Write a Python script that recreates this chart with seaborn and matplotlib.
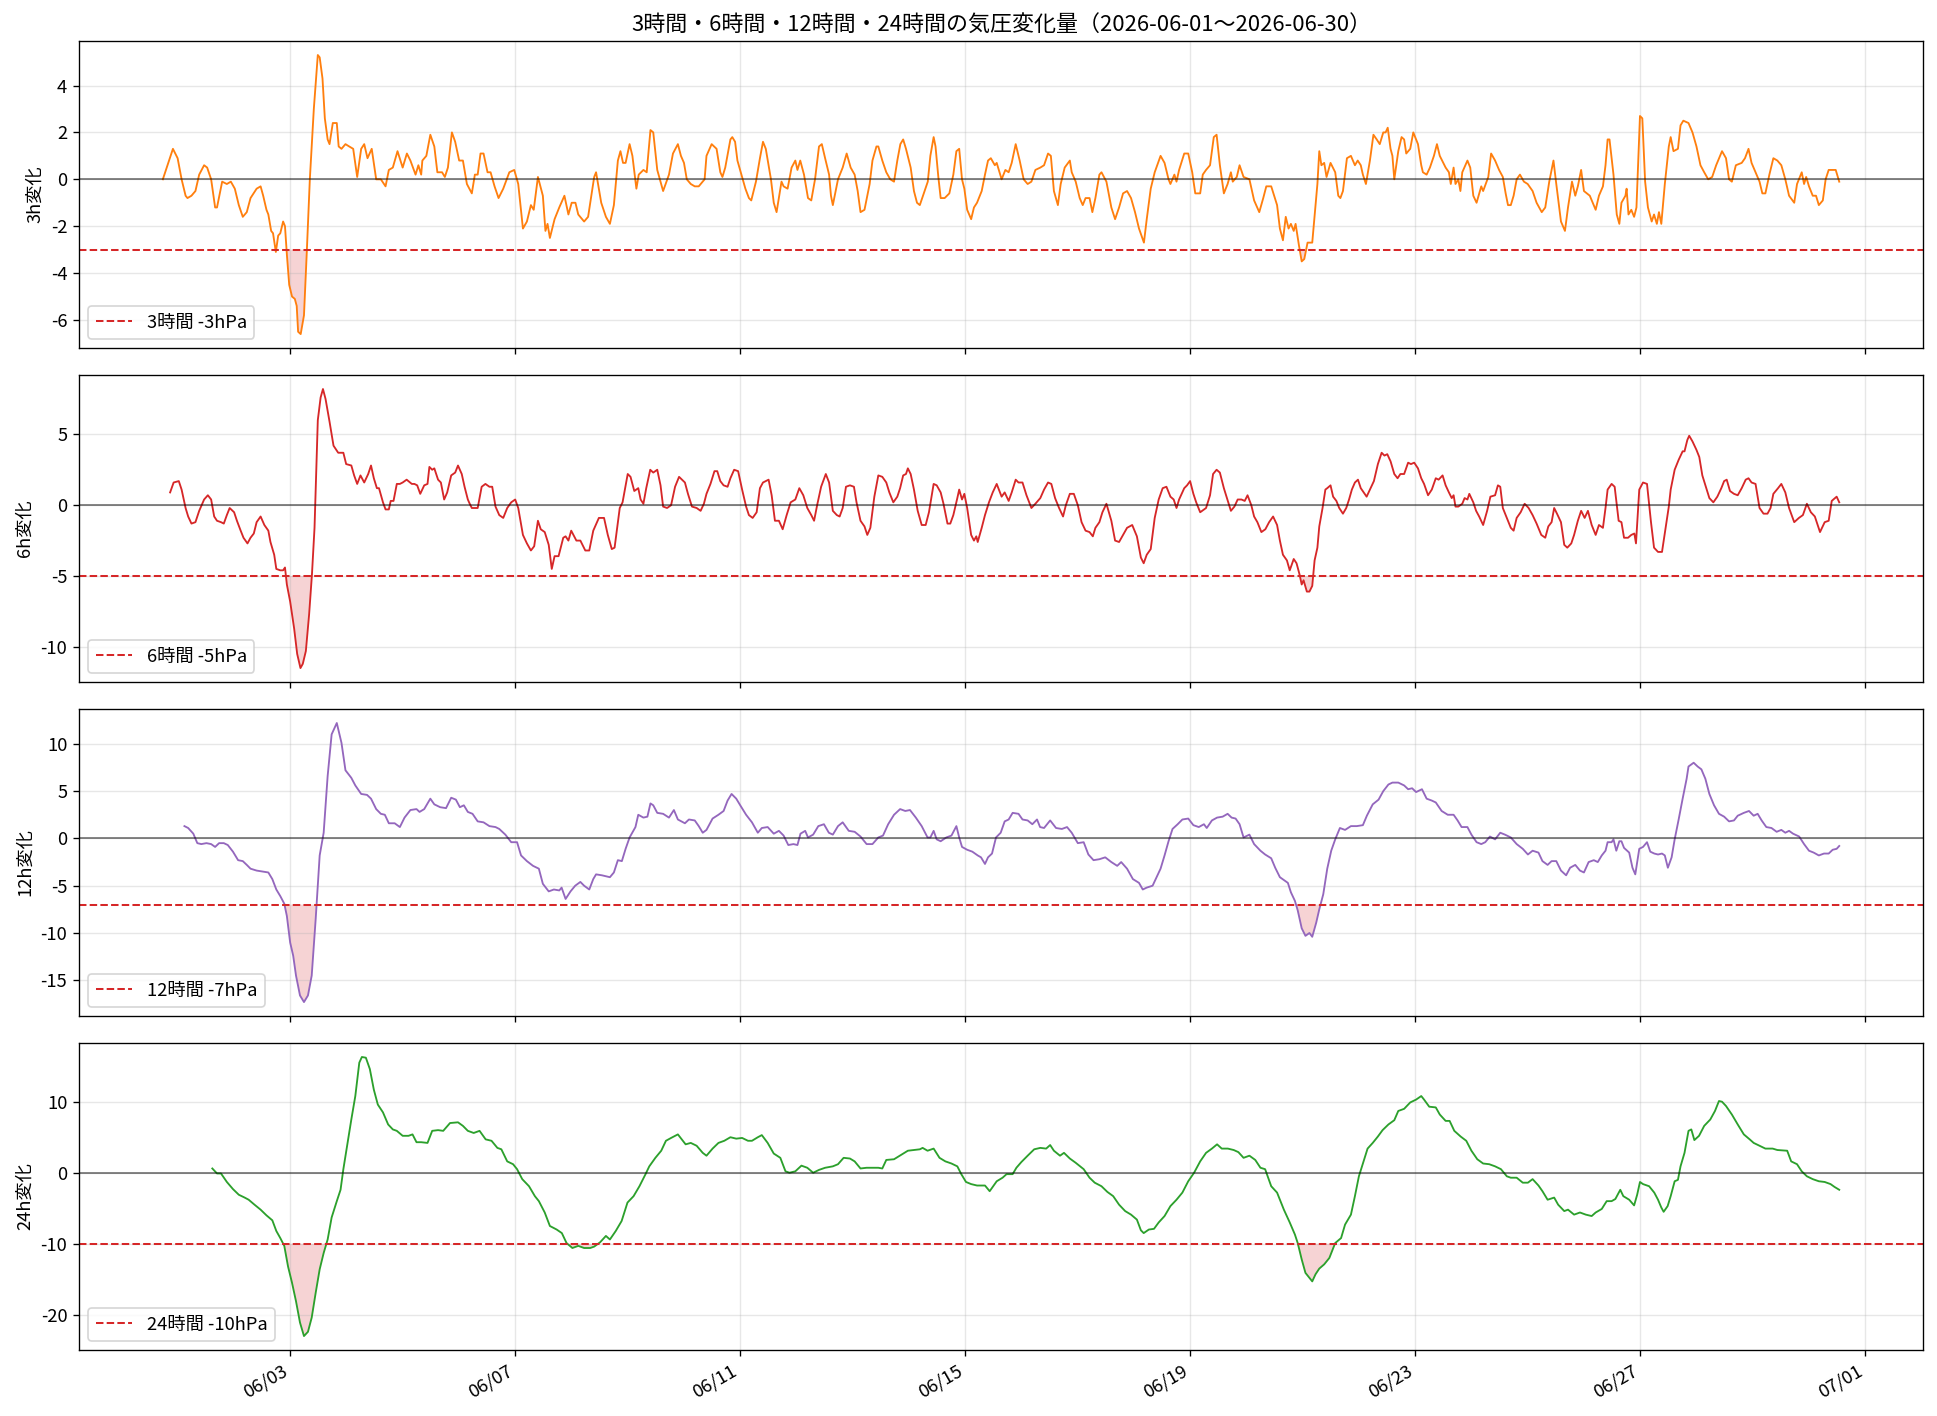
import numpy as np
import pandas as pd
import matplotlib
matplotlib.use("Agg")
import matplotlib.pyplot as plt
import matplotlib.dates as mdates
from matplotlib.ticker import MultipleLocator
import seaborn as sns

# ---------------- data (hours since 2026-06-01 00:00, value in hPa) ----------------
BASE = "2026-06-01 00:00"

pts_3h = [(-6.3, 0.0), (-2.0, 1.3), (0.0, 0.9), (1.7, 0.0), (3.4, -0.7), (4.2, -0.8), (5.9, -0.7), (7.6, -0.5), (9.2, 0.2), (11.3, 0.6), (12.6, 0.5), (14.3, 0.0), (16.0, -1.2), (16.8, -1.2), (19.0, -0.1), (21.0, -0.2), (22.7, -0.1), (24.4, -0.4), (26.1, -1.1), (27.8, -1.6), (29.5, -1.4), (31.1, -0.8), (33.7, -0.4), (35.4, -0.3), (36.5, -0.7), (37.9, -1.3), (38.7, -1.5), (39.9, -2.2), (40.7, -2.3), (41.9, -3.1), (42.9, -2.4), (43.8, -2.3), (45.0, -1.8), (45.8, -2.0), (46.6, -3.2), (47.6, -4.5), (48.8, -5.0), (50.0, -5.1), (50.8, -5.4), (51.4, -6.5), (52.5, -6.6), (53.9, -5.8), (55.1, -3.1), (56.4, 0.0), (58.1, 3.0), (59.8, 5.3), (60.6, 5.2), (61.8, 4.3), (62.8, 2.6), (64.0, 1.7), (64.8, 1.5), (66.2, 2.4), (67.9, 2.4), (68.7, 1.4), (69.9, 1.3), (71.6, 1.5), (73.2, 1.4), (74.9, 1.3), (76.6, 0.1), (78.3, 1.3), (79.6, 1.5), (81.0, 0.9), (82.8, 1.3), (84.7, 0.0), (86.7, 0.0), (88.7, -0.3), (90.1, 0.4), (91.8, 0.5), (93.8, 1.2), (96.0, 0.5), (97.8, 1.1), (99.3, 0.8), (101.5, 0.2), (102.7, 0.6), (103.9, 0.2), (104.4, 0.8), (106.1, 1.0), (107.8, 1.9), (109.5, 1.4), (110.8, 0.3), (112.8, 0.3), (114.0, 0.1), (115.3, 0.5), (117.0, 2.0), (118.4, 1.6), (120.1, 0.8), (121.7, 0.8), (123.4, -0.2), (125.5, -0.6), (126.8, 0.2), (128.0, 0.2), (129.2, 1.1), (130.5, 1.1), (132.2, 0.3), (133.5, 0.3), (135.2, -0.3), (136.9, -0.8), (138.9, -0.4), (141.5, 0.3), (143.6, 0.4), (145.3, -0.2), (147.3, -2.1), (149.0, -1.8), (150.7, -1.1), (151.9, -1.3), (153.7, 0.1), (155.8, -0.7), (156.9, -2.2), (157.8, -1.9), (158.8, -2.5), (160.8, -1.7), (162.8, -1.2), (165.0, -0.7), (166.7, -1.5), (168.1, -1.0), (169.7, -1.0), (170.9, -1.5), (173.4, -1.8), (175.1, -1.6), (177.7, 0.1), (178.5, 0.3), (180.7, -1.0), (182.7, -1.6), (184.4, -1.9), (186.1, -1.1), (187.8, 0.8), (188.9, 1.2), (190.0, 0.7), (191.1, 0.7), (192.8, 1.5), (194.0, 1.0), (195.7, -0.4), (196.7, 0.2), (198.7, 0.4), (200.1, 0.3), (201.7, 2.1), (202.9, 2.0), (204.6, 0.4), (207.1, -0.5), (209.6, 0.2), (211.3, 1.1), (213.4, 1.5),
          (214.7, 1.0), (216.0, 0.7), (217.2, 0.0), (218.9, -0.2), (220.6, -0.3), (222.3, -0.3), (224.8, 0.0), (225.6, 1.0), (227.8, 1.5), (229.9, 1.3), (231.5, 0.3), (232.4, 0.1), (233.6, 0.5), (235.8, 1.7), (236.6, 1.8), (237.8, 1.6), (238.8, 0.8), (240.8, 0.1), (242.2, -0.4), (243.7, -0.8), (244.7, -0.9), (246.7, -0.1), (248.4, 0.9), (249.7, 1.6), (250.9, 1.3), (253.1, 0.0), (254.3, -1.0), (255.5, -1.4), (257.6, -0.1), (258.5, -0.3), (260.2, -0.4), (261.9, 0.5), (263.5, 0.8), (264.4, 0.4), (265.6, 0.8), (267.2, 0.2), (268.9, -0.8), (270.3, -0.9), (271.9, 0.0), (273.6, 1.4), (274.8, 1.5), (276.2, 0.9), (277.9, 0.2), (278.7, -0.7), (279.5, -1.1), (281.7, 0.0), (283.7, 0.5), (285.4, 1.1), (287.1, 0.5), (288.8, 0.2), (290.1, -0.5), (291.3, -1.4), (293.0, -1.3), (295.2, -0.2), (296.4, 0.8), (298.1, 1.4), (298.9, 1.4), (300.6, 0.8), (302.3, 0.3), (304.0, 0.0), (305.6, -0.1), (307.0, 0.8), (308.3, 1.5), (309.5, 1.7), (310.7, 1.3), (312.7, 0.5), (314.1, -0.5), (315.4, -1.0), (316.6, -1.1), (318.3, -0.6), (320.0, -0.1), (321.1, 1.0), (322.5, 1.8), (323.3, 1.4), (324.5, 0.1), (325.5, -0.8), (327.2, -0.8), (329.2, -0.6), (330.9, 0.2), (332.2, 1.2), (333.4, 1.3), (334.6, 0.0), (335.6, -0.4), (336.8, -1.3), (338.5, -1.7), (339.7, -1.2), (341.0, -1.0), (343.0, -0.5), (344.4, 0.2), (345.7, 0.8), (346.9, 0.9), (348.6, 0.6), (349.4, 0.7), (351.5, 0.0), (353.1, 0.4), (354.5, 0.3), (355.8, 0.7), (357.5, 1.5), (359.2, 0.8), (360.9, 0.0), (362.6, -0.2), (364.2, -0.1), (365.9, 0.4), (368.0, 0.5), (369.6, 0.6), (371.3, 1.1), (372.5, 1.0), (373.8, -0.5), (375.5, -1.1), (376.7, -0.2), (378.4, 0.5), (380.6, 0.8), (381.4, 0.3), (383.1, -0.1), (384.8, -0.8), (386.1, -1.1), (387.3, -0.8), (389.0, -0.8), (390.2, -1.4), (391.5, -0.8), (393.2, 0.2), (394.1, 0.3), (396.2, -0.1), (398.3, -1.2), (399.9, -1.7), (401.6, -1.2), (403.3, -0.6), (405.0, -0.5), (406.7, -0.8), (408.4, -1.4), (410.1, -2.1), (412.2, -2.7), (413.4, -1.7), (415.1, -0.4), (416.8, 0.3), (419.3, 1.0), (421.0, 0.7), (422.7, 0.0), (423.5, -0.2), (425.2, 0.2), (426.1, -0.1), (427.2, 0.4), (429.4, 1.1), (431.1, 1.1), (432.8, 0.3), (434.1, -0.6), (436.2, -0.6), (437.3, 0.2), (438.7, 0.4), (440.4, 0.6), (442.0, 1.8), (443.2, 1.9), (444.6, 0.6), (446.3, -0.6), (447.9, -0.2), (449.3, 0.3), (450.1, -0.1), (451.8, 0.1), (453.0, 0.6), (454.7, 0.1), (457.2, 0.0), (459.2, -0.9), (461.4, -1.4), (463.1, -0.8), (464.4, -0.3), (466.5, -0.3), (469.0, -1.1),
          (470.2, -2.1), (471.5, -2.6), (472.7, -1.6), (473.9, -2.1), (474.9, -1.9), (476.1, -2.2), (476.9, -1.9), (478.3, -2.8), (479.5, -3.5), (480.6, -3.4), (482.0, -2.7), (484.0, -2.7), (485.4, -1.1), (486.2, -0.2), (487.0, 1.2), (487.9, 0.6), (489.1, 0.7), (490.1, 0.1), (491.8, 0.7), (493.8, 0.3), (495.1, -0.7), (496.0, -0.8), (497.1, -0.5), (498.8, 0.9), (500.5, 1.0), (502.2, 0.6), (503.4, 0.8), (504.7, 0.6), (505.6, 0.2), (506.9, -0.2), (508.6, 0.8), (510.1, 1.9), (511.5, 1.7), (512.8, 1.5), (514.3, 2.0), (515.3, 2.0), (516.2, 2.2), (517.4, 1.3), (518.2, 1.0), (519.0, 0.0), (520.7, 1.2), (522.1, 1.8), (523.2, 1.7), (524.1, 1.1), (525.8, 1.3), (527.1, 2.0), (529.1, 1.5), (530.5, 0.6), (531.2, 0.3), (532.8, 0.2), (534.2, 0.5), (535.9, 1.0), (537.2, 1.5), (538.4, 1.0), (540.9, 0.5), (542.3, 0.3), (543.1, -0.2), (544.3, 0.5), (545.1, -0.2), (546.3, 0.0), (547.2, -0.5), (548.0, 0.3), (550.2, 0.8), (551.4, 0.5), (552.7, -0.7), (554.1, -1.0), (556.1, -0.3), (556.9, -0.5), (559.1, 0.1), (560.3, 1.1), (562.0, 0.8), (563.7, 0.4), (565.3, 0.1), (566.5, -0.6), (567.5, -1.1), (568.7, -1.1), (569.9, -0.7), (571.2, 0.0), (572.6, 0.2), (574.3, -0.1), (575.9, -0.2), (578.0, -0.5), (579.7, -1.0), (581.9, -1.4), (583.4, -1.2), (585.1, -0.1), (586.9, 0.8), (588.1, -0.2), (590.1, -1.8), (591.8, -2.2), (593.1, -1.2), (594.8, -0.1), (596.2, -0.7), (597.3, -0.3), (598.7, 0.4), (599.9, -0.5), (602.4, -0.7), (604.9, -1.3), (606.3, -0.7), (608.0, -0.3), (609.1, 0.6), (610.0, 1.7), (610.8, 1.7), (612.5, 0.2), (613.9, -1.5), (615.0, -1.9), (615.9, -1.0), (617.6, -0.7), (618.1, -0.4), (618.9, -1.5), (620.1, -1.3), (621.3, -1.6), (622.3, -1.2), (623.8, 2.7), (624.8, 2.6), (626.0, -0.1), (627.2, -1.2), (628.8, -1.8), (629.8, -1.5), (631.0, -1.9), (631.9, -1.4), (632.9, -1.9), (634.4, -0.2), (636.1, 1.4), (636.9, 1.8), (638.1, 1.2), (640.0, 1.3), (641.1, 2.3), (642.3, 2.5), (644.5, 2.4), (646.2, 2.0), (647.9, 1.4), (649.6, 0.6), (651.2, 0.3), (652.9, 0.0), (654.6, 0.1), (656.3, 0.6), (658.8, 1.2), (660.5, 0.9), (661.8, 0.0), (663.0, -0.1), (664.7, 0.6), (667.2, 0.7), (668.6, 0.9), (670.1, 1.3), (671.4, 0.7), (673.1, 0.3), (674.8, -0.1), (676.0, -0.6), (677.3, -0.6), (679.0, 0.2), (680.7, 0.9), (682.4, 0.8), (684.1, 0.6), (685.8, 0.0), (687.4, -0.7), (689.6, -1.0), (690.8, -0.2), (692.8, 0.3), (693.8, -0.2), (694.7, 0.1), (695.9, -0.3), (697.5, -0.7), (698.9, -0.7), (700.1, -1.1), (701.8, -0.9), (703.0, 0.0), (704.3, 0.4), (706.0, 0.4), (707.3, 0.4), (708.8, -0.1)]

pts_6h = [(-3.2, 0.9), (-1.7, 1.6), (0.5, 1.7), (1.7, 1.1), (3.4, -0.2), (4.5, -0.8), (5.9, -1.3), (7.6, -1.2), (9.2, -0.4), (11.3, 0.4), (12.9, 0.7), (14.3, 0.4), (15.6, -0.8), (16.8, -1.1), (18.5, -1.2), (19.7, -1.3), (21.0, -0.7), (22.2, -0.2), (24.1, -0.5), (25.3, -1.1), (26.9, -1.8), (28.1, -2.3), (29.8, -2.7), (31.1, -2.3), (32.5, -2.0), (33.7, -1.2), (35.4, -0.8), (37.0, -1.4), (38.7, -1.8), (39.6, -2.6), (41.2, -3.5), (42.1, -4.5), (43.8, -4.6), (45.0, -4.6), (45.8, -4.4), (46.6, -5.6), (48.0, -6.8), (49.7, -8.7), (51.0, -10.5), (52.4, -11.5), (53.4, -11.2), (54.7, -10.3), (56.1, -7.7), (57.3, -4.9), (58.4, -1.6), (59.8, 6.0), (61.0, 7.6), (62.0, 8.2), (63.1, 7.5), (64.8, 5.9), (66.5, 4.2), (68.5, 3.7), (70.7, 3.7), (71.9, 2.9), (74.1, 2.8), (75.3, 2.1), (76.6, 1.5), (78.0, 2.1), (79.6, 1.6), (81.3, 2.2), (82.5, 2.8), (83.7, 1.9), (85.0, 1.2), (85.9, 1.2), (87.6, 0.2), (88.7, -0.3), (90.1, -0.3), (90.9, 0.3), (92.1, 0.3), (93.5, 1.5), (94.8, 1.5), (96.0, 1.6), (97.7, 1.8), (99.9, 1.5), (101.0, 1.5), (102.2, 1.4), (103.5, 0.8), (105.2, 1.4), (106.6, 1.5), (107.4, 2.7), (108.6, 2.5), (109.5, 2.6), (111.1, 1.8), (112.3, 1.6), (113.7, 0.4), (115.0, 0.9), (116.7, 2.1), (118.4, 2.3), (119.6, 2.8), (121.2, 2.2), (122.4, 1.3), (123.8, 0.4), (124.6, 0.1), (125.5, -0.2), (126.8, -0.2), (128.0, -0.2), (129.7, 1.3), (131.3, 1.5), (133.0, 1.3), (134.2, 1.3), (135.6, -0.1), (137.2, -0.7), (138.9, -0.9), (140.6, -0.2), (142.3, 0.2), (144.0, 0.4), (145.3, -0.2), (147.3, -2.1), (149.0, -2.7), (150.7, -3.2), (152.1, -2.9), (153.7, -1.1), (154.9, -1.7), (156.6, -1.9), (158.3, -2.8), (159.6, -4.5), (160.8, -3.6), (162.5, -3.6), (164.5, -2.3), (165.5, -2.2), (166.7, -2.5), (167.9, -1.8), (170.1, -2.5), (171.8, -2.5), (173.9, -3.2), (175.6, -3.2), (177.3, -1.8), (179.7, -0.9), (181.9, -0.9), (183.5, -2.1), (185.2, -3.1), (186.4, -3.0), (188.6, -0.2), (189.8, 0.2), (192.0, 2.2), (193.2, 2.0), (194.8, 1.0), (196.5, 1.2), (197.5, 0.4), (198.7, 0.1), (199.9, 1.2), (201.6, 2.5), (202.9, 2.3), (204.6, 2.5), (206.0, 1.4), (207.1, -0.1), (208.8, -0.2), (210.5, 0.0), (212.2, 1.3), (213.9, 2.0),
          (216.4, 1.6), (217.7, 0.8), (219.4, -0.1), (221.4, -0.2), (223.1, -0.4), (224.5, 0.1), (225.6, 0.8), (227.3, 1.5), (229.0, 2.4), (230.2, 2.4), (231.5, 1.7), (232.9, 1.4), (234.6, 1.3), (235.8, 1.9), (237.4, 2.5), (239.1, 2.4), (240.8, 1.1), (242.5, -0.1), (243.7, -0.7), (245.3, -0.9), (247.0, -0.5), (248.4, 1.2), (249.7, 1.6), (252.1, 1.8), (253.4, 0.7), (254.8, -1.1), (256.5, -1.1), (258.1, -1.7), (259.8, -0.7), (261.5, 0.2), (263.5, 0.4), (265.2, 1.2), (266.9, 0.7), (268.6, -0.2), (270.3, -0.7), (271.5, -1.1), (272.8, 0.0), (274.5, 1.3), (276.5, 2.2), (277.9, 1.6), (279.5, -0.4), (281.2, -0.7), (282.4, -0.8), (283.7, -0.2), (285.1, 1.3), (286.8, 1.4), (288.5, 1.3), (289.6, 0.2), (291.3, -1.1), (293.0, -1.5), (294.2, -2.1), (295.5, -1.6), (297.2, 0.6), (298.9, 2.1), (300.6, 2.0), (302.3, 1.6), (303.6, 0.9), (305.3, 0.2), (307.0, 0.6), (308.2, 1.2), (309.5, 2.1), (310.7, 2.2), (311.5, 2.6), (312.7, 2.2), (314.1, 1.1), (315.7, -0.4), (317.4, -1.4), (319.1, -1.4), (320.5, -0.5), (322.5, 1.5), (323.8, 1.4), (325.5, 0.9), (326.7, 0.1), (328.4, -1.3), (329.6, -1.3), (330.9, -0.7), (332.6, 0.5), (333.4, 1.1), (334.6, 0.4), (335.6, 0.8), (336.8, -0.2), (338.5, -2.1), (339.7, -2.5), (340.7, -2.2), (341.3, -2.6), (343.0, -1.6), (344.4, -0.7), (346.1, 0.2), (347.7, 0.9), (349.4, 1.5), (351.5, 0.6), (352.8, 0.9), (354.5, 0.3), (355.8, 0.9), (357.5, 1.8), (358.7, 1.6), (360.4, 1.6), (362.1, 0.7), (364.2, -0.2), (365.9, 0.1), (368.0, 0.5), (369.6, 1.1), (371.3, 1.6), (372.7, 1.5), (374.3, 0.5), (376.0, -0.2), (377.7, -0.8), (378.9, 0.0), (380.6, 0.8), (382.3, 0.8), (384.0, 0.0), (385.6, -1.2), (387.3, -1.8), (389.0, -1.9), (390.4, -2.2), (391.5, -1.6), (393.2, -1.2), (394.5, -0.5), (396.2, 0.1), (398.3, -1.1), (399.9, -2.5), (401.6, -2.6), (403.3, -2.1), (405.0, -1.6), (407.2, -1.4), (409.2, -2.2), (410.9, -3.7), (412.1, -4.1), (413.4, -3.5), (415.1, -3.1), (416.8, -0.9), (418.5, 0.4), (420.2, 1.2), (421.8, 1.3), (423.5, 0.6), (424.9, 0.4), (426.1, -0.2), (427.2, 0.4), (429.4, 1.2), (430.6, 1.4), (431.9, 1.7), (433.3, 0.8), (434.5, 0.2), (436.2, -0.5), (438.7, -0.2), (440.4, 0.7), (441.7, 2.2), (443.2, 2.5), (444.6, 2.3), (446.3, 1.2), (448.0, 0.3), (449.3, -0.4), (450.8, -0.1), (452.2, 0.4), (453.8, 0.4), (455.2, 0.3), (456.4, 0.7), (458.0, 0.0), (459.2, -0.8), (460.6, -1.2), (462.3, -1.9), (464.0, -1.7), (465.6, -1.2), (467.3, -0.8), (469.0, -1.4),
          (470.2, -2.5), (471.5, -3.5), (473.2, -3.9), (474.4, -4.6), (476.1, -3.8), (477.3, -4.1), (478.6, -4.9), (479.5, -5.6), (480.3, -5.3), (481.7, -6.1), (482.8, -6.1), (484.0, -5.7), (485.0, -3.9), (486.2, -3.0), (487.0, -1.5), (488.4, -0.2), (489.6, 1.1), (490.4, 1.2), (491.8, 1.4), (492.9, 0.6), (494.3, 0.3), (495.5, -0.2), (497.1, -0.6), (498.5, -0.2), (499.7, 0.4), (500.9, 1.1), (502.2, 1.6), (503.5, 1.8), (504.7, 1.2), (506.4, 0.8), (507.2, 0.6), (508.6, 1.1), (510.3, 1.7), (512.0, 2.9), (513.6, 3.7), (514.8, 3.5), (516.0, 3.6), (517.4, 3.1), (519.0, 2.2), (520.4, 1.9), (521.6, 2.2), (523.2, 2.2), (524.9, 3.0), (526.1, 2.9), (527.5, 3.0), (529.1, 2.6), (530.5, 1.9), (531.7, 1.5), (533.4, 0.7), (535.0, 1.1), (536.7, 1.9), (537.9, 1.8), (539.6, 2.1), (540.9, 1.4), (542.3, 0.9), (543.5, 0.5), (544.3, 0.7), (545.1, -0.1), (546.3, -0.1), (548.0, 0.1), (549.0, 0.5), (550.2, 0.4), (551.0, 0.8), (552.7, 0.2), (553.9, -0.4), (555.2, -0.8), (556.9, -1.4), (558.6, -0.4), (560.0, 0.6), (562.0, 0.7), (563.2, 1.4), (564.2, 1.3), (565.3, -0.2), (567.0, -0.9), (568.7, -1.6), (569.9, -1.8), (571.2, -0.9), (572.9, -0.5), (574.6, 0.1), (576.3, -0.2), (578.0, -0.7), (579.7, -1.3), (581.7, -2.1), (583.4, -2.3), (584.7, -1.5), (586.1, -1.2), (587.2, -0.2), (588.4, -0.6), (590.1, -1.2), (591.5, -2.8), (592.8, -3.0), (594.5, -2.7), (595.7, -2.1), (597.3, -1.1), (598.7, -0.4), (600.2, -0.9), (601.6, -0.4), (603.2, -1.4), (604.9, -2.1), (606.3, -1.4), (608.0, -1.6), (609.1, -0.2), (610.0, 1.1), (611.7, 1.5), (613.0, 1.3), (614.7, -1.1), (615.9, -1.2), (617.0, -2.3), (618.7, -2.3), (620.1, -2.1), (621.4, -2.0), (622.1, -2.7), (623.5, 1.1), (625.1, 1.6), (626.8, 1.5), (628.5, -1.2), (629.8, -3.0), (631.5, -3.3), (633.2, -3.3), (634.9, -1.4), (636.1, -0.1), (636.9, 1.1), (638.6, 2.5), (640.3, 3.2), (642.0, 3.8), (642.8, 3.8), (644.0, 4.6), (644.8, 4.9), (646.2, 4.5), (647.9, 3.9), (649.1, 3.4), (650.4, 2.1), (652.1, 1.2), (653.4, 0.5), (655.1, 0.2), (656.8, 0.6), (658.5, 1.2), (659.7, 1.7), (660.8, 1.8), (662.2, 1.0), (663.9, 0.8), (665.5, 0.7), (667.2, 1.2), (668.9, 1.8), (670.1, 1.9), (671.4, 1.6), (673.1, 1.5), (674.8, -0.2), (676.5, -0.6), (678.2, -0.6), (679.5, -0.2), (680.7, 0.8), (682.7, 1.2), (684.1, 1.5), (685.8, 0.9), (687.4, -0.2), (689.6, -1.2), (691.6, -0.9), (693.3, -0.7), (695.0, 0.1), (696.7, -0.5), (698.4, -0.8), (700.6, -1.9), (702.6, -1.2), (704.3, -1.1), (705.6, 0.3), (707.7, 0.6), (708.8, 0.2)]

pts_12h = [(2.9, 1.3), (4.5, 1.1), (6.7, 0.5), (8.4, -0.5), (10.1, -0.6), (12.3, -0.5), (14.3, -0.6), (16.0, -0.9), (17.7, -0.5), (19.7, -0.5), (21.4, -0.7), (23.6, -1.4), (25.8, -2.3), (27.8, -2.4), (29.5, -2.8), (31.1, -3.2), (33.7, -3.4), (36.2, -3.5), (38.7, -3.6), (40.4, -4.3), (42.1, -5.4), (43.8, -6.1), (45.5, -6.9), (46.6, -8.2), (48.0, -11.0), (49.3, -12.4), (50.5, -14.5), (52.2, -16.6), (53.9, -17.3), (55.6, -16.6), (57.2, -14.5), (58.9, -8.5), (60.6, -1.8), (62.3, 0.6), (64.0, 6.6), (65.7, 11.0), (67.9, 12.2), (69.9, 10.1), (71.6, 7.2), (74.1, 6.4), (75.8, 5.6), (78.3, 4.7), (80.8, 4.6), (82.5, 4.2), (84.7, 3.1), (86.7, 2.6), (88.4, 2.5), (90.1, 1.6), (92.6, 1.6), (94.8, 1.2), (96.8, 2.2), (99.3, 3.0), (101.9, 3.1), (103.2, 2.8), (105.2, 3.1), (107.8, 4.2), (109.5, 3.6), (112.0, 3.3), (114.5, 3.2), (116.7, 4.3), (118.7, 4.1), (120.4, 3.3), (122.1, 3.5), (123.8, 2.8), (125.8, 2.6), (128.0, 1.8), (130.5, 1.7), (133.0, 1.3), (135.6, 1.2), (137.2, 1.0), (139.8, 0.4), (142.3, -0.4), (144.8, -0.4), (146.5, -1.8), (149.0, -2.4), (151.6, -2.9), (154.1, -3.2), (155.8, -4.8), (158.3, -5.6), (160.5, -5.4), (162.8, -5.5), (163.8, -5.2), (165.5, -6.4), (167.6, -5.6), (169.6, -5.0), (171.8, -4.6), (173.4, -5.0), (175.6, -5.4), (177.3, -4.3), (178.5, -3.8), (181.0, -3.9), (184.4, -4.1), (186.1, -3.6), (187.8, -2.3), (189.5, -2.4), (191.1, -1.1), (192.8, 0.1), (195.3, 1.2), (196.5, 2.5), (198.7, 2.2), (200.4, 2.3), (201.7, 3.7), (202.9, 3.5), (204.6, 2.7), (207.1, 2.6), (209.6, 2.2), (211.7, 3.0), (213.4, 2.0),
           (216.4, 1.6), (218.1, 2.0), (220.6, 1.9), (222.3, 1.3), (224.0, 0.6), (225.6, 0.9), (228.2, 2.1), (230.7, 2.5), (232.9, 2.9), (234.6, 4.0), (236.3, 4.7), (238.3, 4.2), (240.0, 3.5), (242.5, 2.5), (245.0, 1.7), (247.5, 0.6), (249.2, 1.1), (251.7, 1.2), (254.3, 0.5), (256.5, 0.8), (258.5, 0.3), (260.5, -0.7), (262.7, -0.6), (264.4, -0.7), (265.7, 0.5), (267.7, 0.8), (268.9, 0.1), (271.1, 0.4), (273.3, 1.3), (275.7, 1.5), (277.8, 0.6), (279.5, 0.4), (281.7, 1.3), (283.7, 1.7), (286.3, 0.8), (288.8, 0.7), (291.3, 0.2), (293.9, -0.6), (296.4, -0.6), (298.9, 0.1), (300.9, 0.3), (303.1, 1.5), (305.6, 2.5), (308.2, 3.1), (310.4, 2.9), (312.4, 3.0), (314.9, 2.2), (317.4, 1.3), (319.9, 0.1), (321.1, 0.1), (322.5, 0.8), (323.8, -0.1), (325.5, -0.3), (327.9, 0.1), (330.1, 0.3), (332.2, 1.3), (333.4, 0.1), (334.6, -0.9), (336.8, -1.2), (339.0, -1.4), (341.3, -1.8), (342.7, -2.0), (344.4, -2.7), (345.7, -2.0), (347.4, -1.6), (349.1, 0.1), (351.1, 0.6), (352.8, 1.8), (354.5, 2.0), (356.2, 2.7), (358.7, 2.6), (360.4, 2.0), (362.6, 1.9), (364.6, 1.5), (366.6, 2.0), (367.9, 1.2), (369.6, 1.1), (372.2, 1.9), (374.7, 1.1), (377.2, 1.0), (379.4, 1.2), (381.4, 0.6), (384.0, -0.5), (386.5, -0.4), (388.5, -1.7), (390.7, -2.3), (393.2, -2.2), (395.7, -2.0), (398.3, -2.5), (400.8, -2.9), (402.5, -2.5), (405.0, -3.2), (407.5, -4.3), (410.1, -4.7), (411.7, -5.4), (413.4, -5.2), (415.9, -5.0), (417.6, -4.1), (419.3, -3.2), (421.0, -1.8), (422.7, -0.3), (424.4, 1.0), (426.6, 1.5), (428.6, 2.0), (431.1, 2.1), (433.3, 1.4), (435.6, 1.2), (437.8, 1.5), (439.0, 1.1), (441.2, 1.9), (443.4, 2.2), (445.8, 2.3), (447.9, 2.6), (449.6, 2.2), (451.3, 2.1), (453.0, 1.5), (454.7, 0.1), (457.2, 0.4), (459.2, -0.6), (461.9, -1.3), (463.9, -1.7), (466.5, -2.1), (468.2, -3.1),
           (470.2, -4.1), (471.9, -4.4), (473.6, -4.7), (474.9, -5.7), (476.6, -6.6), (477.8, -7.6), (479.5, -9.5), (481.1, -10.3), (482.8, -10.0), (484.0, -10.4), (485.7, -8.9), (487.0, -7.5), (488.7, -5.9), (490.4, -3.2), (492.1, -1.3), (493.8, -0.1), (495.8, 1.1), (498.0, 0.9), (500.5, 1.3), (503.0, 1.3), (505.6, 1.4), (507.3, 2.4), (509.8, 3.6), (512.3, 4.1), (514.3, 5.0), (516.5, 5.7), (518.2, 5.9), (520.7, 5.9), (523.2, 5.6), (524.9, 5.2), (526.6, 5.3), (528.3, 4.9), (530.8, 5.2), (532.8, 4.2), (535.0, 4.0), (536.7, 3.8), (539.2, 2.9), (541.8, 2.5), (544.3, 2.5), (546.0, 1.9), (547.7, 1.2), (550.2, 1.2), (551.9, 0.4), (554.1, -0.4), (556.1, -0.6), (557.8, -0.4), (559.8, 0.2), (562.0, -0.1), (564.2, 0.6), (566.2, 0.4), (568.7, 0.1), (571.2, -0.6), (573.8, -1.1), (576.0, -1.7), (578.0, -1.3), (580.5, -1.5), (582.2, -2.4), (584.4, -2.8), (586.1, -2.4), (588.1, -2.4), (590.1, -3.4), (592.3, -3.9), (594.0, -3.1), (596.2, -2.8), (598.2, -3.4), (599.9, -3.6), (601.9, -2.5), (604.1, -2.3), (605.8, -2.5), (607.5, -1.8), (609.1, -1.3), (610.0, -0.4), (611.7, -0.4), (612.5, -0.1), (613.7, -1.3), (615.0, -0.3), (615.9, -0.3), (617.0, -1.0), (619.2, -1.5), (620.6, -3.1), (621.8, -3.8), (623.5, -1.1), (625.1, -0.9), (626.8, -0.4), (628.2, -1.4), (629.9, -1.6), (631.5, -1.7), (633.2, -1.6), (634.4, -1.8), (635.7, -3.1), (637.3, -2.0), (638.6, -0.1), (640.3, 2.0), (642.0, 4.2), (643.7, 6.3), (644.5, 7.6), (646.7, 8.0), (648.4, 7.6), (650.0, 7.3), (651.7, 6.3), (653.4, 4.7), (655.4, 3.5), (657.5, 2.6), (659.7, 2.3), (661.8, 1.8), (663.9, 1.9), (665.5, 2.4), (668.1, 2.7), (670.3, 2.9), (672.3, 2.4), (674.0, 2.6), (675.7, 1.9), (677.7, 1.2), (679.9, 1.1), (682.1, 0.7), (684.1, 0.9), (685.8, 0.6), (687.4, 0.8), (689.1, 0.5), (691.7, 0.2), (693.8, -0.6), (695.9, -1.3), (697.9, -1.5), (700.1, -1.8), (702.3, -1.6), (704.3, -1.6), (706.0, -1.2), (707.7, -1.1), (708.8, -0.8)]

pts_24h = [(14.8, 0.6), (16.8, -0.1), (18.5, -0.1), (21.0, -1.3), (23.6, -2.3), (26.1, -3.1), (28.6, -3.5), (30.3, -3.8), (32.8, -4.5), (35.4, -5.2), (37.9, -6.0), (40.4, -6.7), (42.1, -8.2), (43.8, -9.2), (45.5, -10.3), (47.1, -13.2), (48.8, -15.5), (50.5, -18.1), (52.2, -21.1), (53.9, -23.0), (55.6, -22.4), (57.2, -20.4), (58.9, -16.9), (60.6, -13.6), (62.3, -11.3), (64.0, -9.4), (65.7, -6.3), (67.9, -4.0), (69.5, -2.4), (70.7, 0.5), (72.4, 4.0), (74.1, 7.5), (75.8, 10.8), (77.5, 15.5), (78.6, 16.3), (80.3, 16.2), (82.0, 14.6), (83.7, 11.7), (85.4, 9.6), (87.6, 8.5), (89.8, 6.8), (91.8, 6.1), (93.5, 5.9), (96.0, 5.2), (98.5, 5.2), (100.2, 5.4), (101.9, 4.3), (103.9, 4.3), (106.6, 4.2), (108.6, 5.9), (111.1, 6.0), (113.3, 5.9), (116.2, 7.0), (119.6, 7.1), (121.7, 6.6), (123.8, 5.9), (126.3, 5.6), (128.8, 5.9), (131.4, 4.7), (133.9, 4.5), (136.4, 3.5), (138.1, 3.3), (140.6, 1.6), (143.1, 1.2), (144.8, 0.5), (147.0, -0.9), (149.9, -1.9), (152.4, -3.3), (154.1, -4.0), (156.6, -5.6), (158.8, -7.5), (161.7, -8.0), (163.9, -8.5), (165.9, -9.9), (168.4, -10.6), (170.9, -10.3), (173.4, -10.6), (176.0, -10.6), (177.7, -10.4), (180.2, -9.8), (182.7, -8.9), (184.4, -9.4), (186.9, -8.2), (189.4, -6.8), (191.9, -4.2), (194.5, -3.3), (197.0, -1.9), (199.6, -0.2), (201.2, 0.9), (203.8, 2.1), (206.3, 3.1), (208.3, 4.5), (210.5, 4.9), (213.4, 5.4),
           (216.7, 4.0), (218.9, 4.2), (221.4, 3.8), (224.0, 2.8), (225.6, 2.4), (228.2, 3.4), (230.7, 4.2), (233.2, 4.5), (235.8, 5.0), (238.3, 4.8), (240.8, 4.9), (243.3, 4.5), (245.0, 4.5), (247.5, 5.0), (249.2, 5.3), (251.7, 4.2), (254.3, 2.7), (257.1, 2.1), (259.3, 0.2), (261.0, 0.0), (263.5, 0.2), (266.1, 1.0), (268.6, 0.7), (271.1, 0.0), (273.6, 0.4), (276.2, 0.7), (279.5, 0.9), (281.7, 1.2), (284.1, 2.1), (286.8, 2.0), (288.8, 1.6), (291.3, 0.6), (293.9, 0.7), (296.4, 0.7), (298.9, 0.7), (300.6, 0.6), (302.3, 1.8), (305.6, 1.9), (309.0, 2.6), (311.5, 3.1), (314.1, 3.2), (316.6, 3.3), (317.8, 3.5), (319.9, 3.1), (322.5, 3.4), (325.0, 2.1), (327.5, 1.6), (330.1, 1.3), (332.6, 0.9), (334.3, -0.2), (336.3, -1.3), (338.5, -1.6), (341.0, -1.8), (344.4, -1.8), (346.4, -2.6), (347.7, -2.0), (349.4, -1.2), (351.9, -0.7), (353.6, -0.2), (356.2, -0.2), (357.8, 0.7), (359.9, 1.5), (362.6, 2.4), (365.4, 3.3), (368.0, 3.5), (370.5, 3.4), (372.2, 3.9), (373.8, 3.1), (376.4, 2.4), (378.1, 2.8), (380.6, 2.0), (383.1, 1.4), (386.5, 0.5), (389.0, -0.7), (391.2, -1.4), (394.1, -1.9), (396.6, -2.7), (399.1, -3.3), (401.6, -4.5), (404.2, -5.4), (406.7, -5.9), (409.2, -6.6), (410.9, -8.1), (412.1, -8.5), (414.3, -8.0), (416.5, -7.9), (418.5, -7.0), (421.0, -6.1), (423.5, -4.7), (426.1, -3.8), (428.6, -2.8), (431.1, -1.2), (433.6, 0.0), (436.2, 1.6), (438.7, 2.8), (441.2, 3.4), (443.4, 4.0), (445.4, 3.4), (448.0, 3.4), (450.5, 3.2), (452.5, 2.9), (454.7, 2.1), (457.2, 2.4), (459.7, 1.8), (461.9, 0.7), (463.9, 0.5), (466.5, -1.9), (469.0, -2.8),
           (470.2, -3.8), (471.9, -5.2), (474.4, -7.0), (476.6, -8.7), (477.8, -9.9), (479.5, -12.2), (481.1, -14.1), (482.8, -14.8), (484.0, -15.3), (485.4, -14.3), (487.0, -13.5), (489.1, -12.9), (491.3, -12.0), (493.8, -9.9), (496.3, -9.2), (498.0, -7.3), (500.5, -5.9), (502.2, -3.3), (503.9, -0.5), (505.6, 1.3), (507.6, 3.4), (509.8, 4.2), (512.0, 5.1), (514.0, 6.0), (516.5, 6.8), (519.0, 7.4), (520.7, 8.7), (523.2, 9.0), (525.8, 9.9), (528.3, 10.3), (530.5, 10.8), (531.7, 10.3), (533.9, 9.3), (536.7, 9.2), (538.4, 8.2), (540.9, 7.3), (542.6, 7.3), (544.6, 5.9), (547.3, 5.1), (549.7, 4.5), (551.9, 3.1), (554.4, 1.9), (556.9, 1.3), (559.5, 1.2), (562.0, 0.9), (564.5, 0.5), (567.0, -0.5), (568.7, -0.7), (571.2, -0.7), (573.8, -1.4), (576.0, -1.4), (578.0, -0.9), (580.5, -1.8), (582.2, -2.6), (584.4, -3.8), (587.2, -3.5), (588.9, -4.5), (591.5, -5.4), (593.1, -5.2), (595.7, -5.9), (598.2, -5.6), (600.7, -5.9), (603.2, -6.1), (604.9, -5.6), (607.5, -5.1), (609.6, -4.0), (611.7, -4.0), (613.3, -3.7), (615.4, -2.4), (616.7, -3.3), (619.2, -3.8), (621.3, -4.6), (622.6, -3.1), (623.8, -1.3), (625.1, -1.6), (627.7, -1.9), (629.9, -2.8), (631.5, -3.8), (632.9, -4.9), (633.9, -5.5), (635.6, -4.7), (636.9, -3.3), (638.6, -1.2), (640.0, -1.0), (641.1, 0.9), (642.8, 2.8), (644.5, 5.9), (645.7, 6.1), (647.0, 4.6), (649.0, 5.2), (651.2, 6.6), (653.8, 7.5), (655.8, 8.7), (657.5, 10.1), (658.8, 10.0), (660.5, 9.4), (663.0, 8.2), (665.5, 6.8), (668.1, 5.4), (670.6, 4.7), (672.3, 4.2), (674.8, 3.8), (677.3, 3.4), (680.4, 3.4), (682.4, 3.2), (686.6, 3.1), (688.3, 1.6), (690.8, 1.2), (692.8, 0.2), (695.0, -0.5), (697.5, -0.9), (700.1, -1.2), (702.6, -1.3), (705.1, -1.6), (706.8, -2.0), (708.8, -2.4)]

series_names = ["3h変化", "6h変化", "12h変化", "24h変化"]
series_colors = ["#ff7f0e", "#d62728", "#9467bd", "#2ca02c"]
thresholds = [-3, -5, -7, -10]
threshold_labels = ["3時間 -3hPa", "6時間 -5hPa", "12時間 -7hPa", "24時間 -10hPa"]
ytick_steps = [2, 5, 5, 10]
title = "3時間・6時間・12時間・24時間の気圧変化量（2026-06-01～2026-06-30）"
tick_start, tick_end = "2026-06-03", "2026-07-01"

# ---------------- plotting ----------------
plt.rcParams["font.family"] = ["Noto Sans CJK JP", "DejaVu Sans"]
plt.rcParams["axes.unicode_minus"] = False
FS = 10.9

fig, axes = plt.subplots(4, 1, figsize=(1937 / 121, 1416 / 121), dpi=121, sharex=True)
fig.subplots_adjust(left=0.0408, right=0.9928, top=0.971, bottom=0.0466, hspace=0.088)

base = pd.Timestamp(BASE)
all_pts = [pts_3h, pts_6h, pts_12h, pts_24h]
for ax, pts, name, col, thr, lab, step in zip(axes, all_pts, series_names, series_colors,
                                               thresholds, threshold_labels, ytick_steps):
    hrs = np.array([p[0] for p in pts])
    vals = np.array([p[1] for p in pts])
    times = base + pd.to_timedelta(hrs, unit="h")
    df = pd.DataFrame({"time": times, "value": vals})
    sns.lineplot(data=df, x="time", y="value", ax=ax, color=col, linewidth=1.1,
                 estimator=None)
    ax.axhline(0, color="black", linewidth=1.0, alpha=0.55)
    ax.axhline(thr, color="#d62728", linestyle="--", linewidth=1.2, label=lab)
    xn = mdates.date2num(times.to_pydatetime())
    ax.fill_between(xn, vals, thr, where=vals < thr, interpolate=True,
                    color="#d62728", alpha=0.2, linewidth=0)
    ax.yaxis.set_major_locator(MultipleLocator(step))
    ax.tick_params(labelsize=FS)
    ax.grid(True, alpha=0.3)
    ax.set_ylabel(name, fontsize=FS)
    ax.set_xlabel("")
    ax.legend(loc="lower left", fontsize=FS)

axes[0].set_title(title, fontsize=13.1)
ticks = pd.date_range(tick_start, tick_end, freq="4D")
axes[-1].set_xticks(mdates.date2num(ticks.to_pydatetime()))
axes[-1].xaxis.set_major_formatter(mdates.DateFormatter("%m/%d"))
for lbl in axes[-1].get_xticklabels():
    lbl.set_rotation(30)
    lbl.set_ha("right")

fig.savefig("out.png", dpi=121)
